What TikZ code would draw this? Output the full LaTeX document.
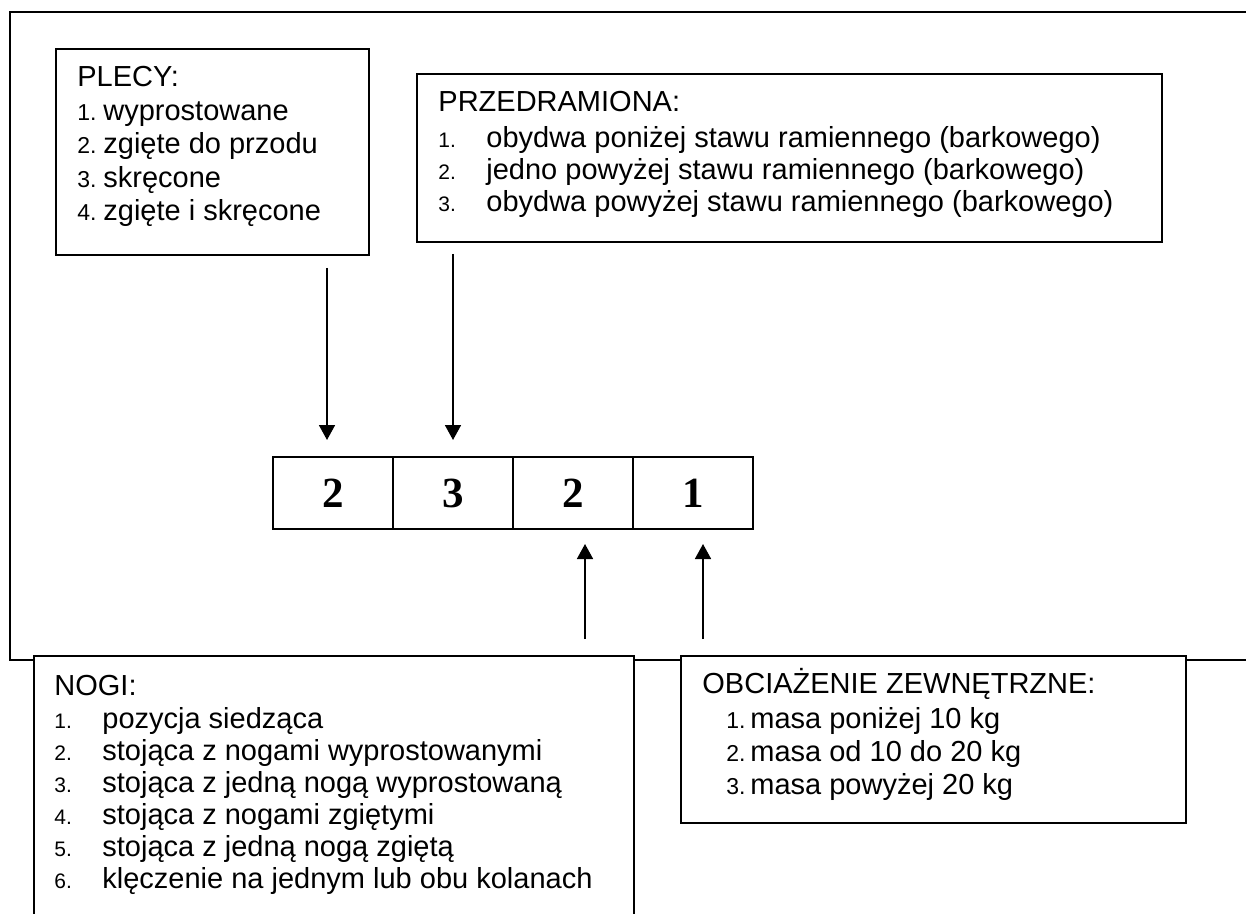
\documentclass[tikz,border=0pt]{standalone}
\usepackage{fontspec}
\setmainfont{Liberation Sans}
\newfontfamily\cellfont{Liberation Serif}
\usetikzlibrary{arrows.meta,positioning}

\tikzset{
  box/.style={draw, line width=0.85pt, fill=white, anchor=north west, inner sep=0pt, outer sep=0pt},
  title/.style={anchor=base west, inner sep=0pt, font=\fontsize{14.5}{17}\selectfont},
  entry/.style={title},
  num/.style={anchor=base west, inner sep=0pt, font=\fontsize{10.5}{12}\selectfont},
  cell/.style={draw, line width=0.85pt, minimum width=60pt, minimum height=36pt, inner sep=0pt, outer sep=0pt,
    font=\cellfont\bfseries\fontsize{21.5}{24}\selectfont},
  arr/.style={line width=0.85pt, -{Triangle[width=8pt,length=7.5pt]}}
}

\begin{document}
\begin{tikzpicture}[x=0.5pt,y=-0.5pt]
  \useasboundingbox (0,0) rectangle (1246,914);
  \clip (0,0) rectangle (1246,914);
  \draw[line width=0.85pt] (10,12) rectangle (1260,660);

  % plecy
  \node[box, minimum width=156.5pt, minimum height=103pt] (plecy) at (56,49) {};
  \node[title] (plecyt) at (77,87) {PLECY:};
  \foreach \t [count=\i] in {wyprostowane, zgięte do przodu, skręcone, zgięte i skręcone}{
    \node[num, font=\fontsize{11.5}{13}\selectfont] (plecyn\i) at (77,{87+33.5*\i}) {\i.};
    \node[entry] (plecye\i) at (103,{87+33.5*\i}) {\t};
  }

  % przedramiona
  \node[box, minimum width=372.5pt, minimum height=84pt] (przed) at (417,74) {};
  \node[title] (przedt) at (438,112) {PRZEDRAMIONA:};
  \foreach \t [count=\i] in {obydwa poniżej stawu ramiennego (barkowego),
      jedno powyżej stawu ramiennego (barkowego), obydwa powyżej stawu ramiennego (barkowego)}{
    \node[num] (przedn\i) at (438,{116+32*\i}) {\i.};
    \node[entry] (przede\i) at (486,{116+32*\i}) {\t};
  }

  % kod
  \node[cell] (c1) at (333,493) {2};
  \node[cell, right=0pt of c1] (c2) {3};
  \node[cell, right=0pt of c2] (c3) {2};
  \node[cell, right=0pt of c3] (c4) {1};

  % nogi
  \node[box, minimum width=300pt, minimum height=150pt] (nogi) at (34,656) {};
  \node[title] (nogit) at (54,695) {NOGI:};
  \foreach \t [count=\i] in {pozycja siedząca, stojąca z nogami wyprostowanymi,
      stojąca z jedną nogą wyprostowaną, stojąca z nogami zgiętymi,
      stojąca z jedną nogą zgiętą, klęczenie na jednym lub obu kolanach}{
    \node[num] (nogin\i) at (54,{696+32*\i}) {\i.};
    \node[entry] (nogie\i) at (102,{696+32*\i}) {\t};
  }

  % obciazenie
  \node[box, minimum width=252.5pt, minimum height=83.5pt] (obc) at (681,656) {};
  \node[title] (obct) at (702,693) {OBCIAŻENIE ZEWNĘTRZNE:};
  \foreach \t [count=\i] in {masa poniżej 10 kg, masa od 10 do 20 kg, masa powyżej 20 kg}{
    \node[num, font=\fontsize{11.5}{13}\selectfont] (obcn\i) at (726,{695+33*\i}) {\i.};
    \node[entry] (obce\i) at (750,{695+33*\i}) {\t};
  }

  \draw[arr, shorten <=6.5pt, shorten >=8.5pt] ([xshift=-3pt]c1.north |- plecy.south) -- ([xshift=-3pt]c1.north);
  \draw[arr, shorten <=6pt, shorten >=8.5pt] (c2.north |- przed.south) -- (c2.north);
  \draw[arr, shorten <=8.5pt, shorten >=7.5pt] ([xshift=6pt]c3.south |- nogi.north) -- ([xshift=6pt]c3.south);
  \draw[arr, shorten <=8.5pt, shorten >=7.5pt] ([xshift=5pt]c4.south |- obc.north) -- ([xshift=5pt]c4.south);
\end{tikzpicture}
\end{document}
